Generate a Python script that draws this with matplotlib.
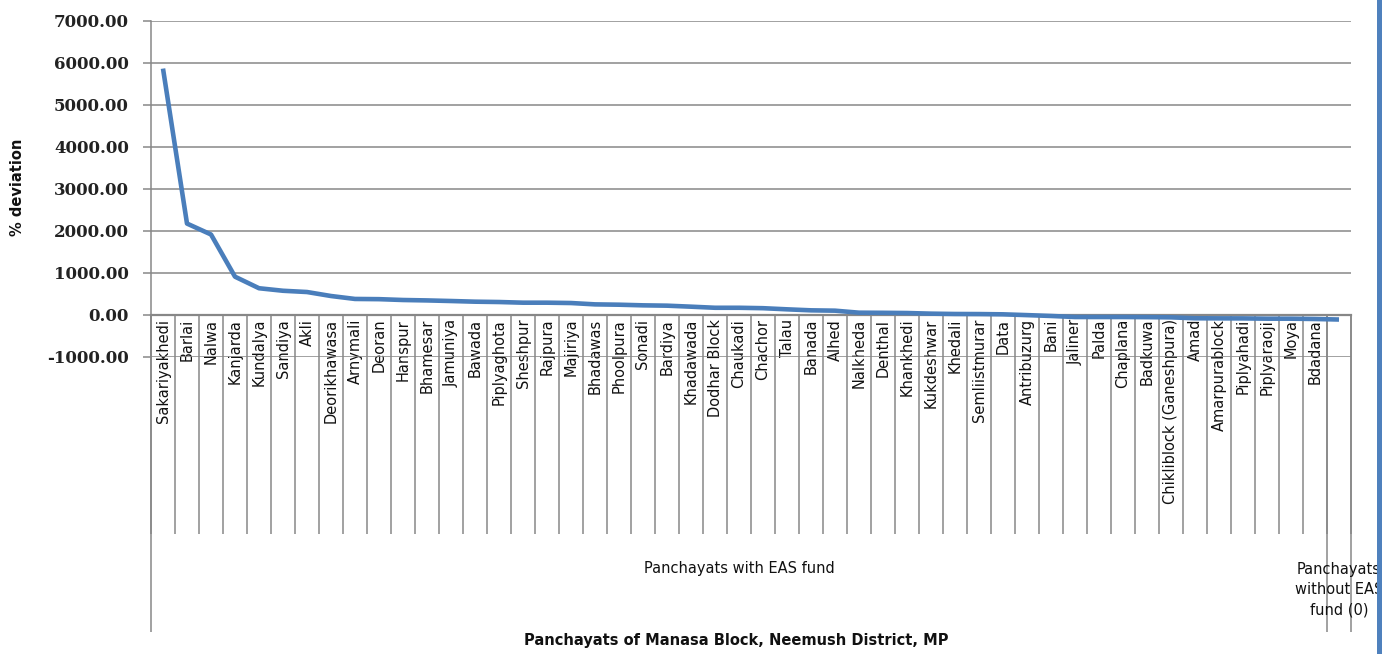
import matplotlib
matplotlib.use("Agg")
import matplotlib.pyplot as plt
import matplotlib.transforms as mtransforms
from matplotlib.patches import Rectangle
import numpy as np

categories = ["Sakariyakhedi", "Barlai", "Nalwa", "Kanjarda", "Kundalya", "Sandiya", "Akli",
              "Deorikhawasa", "Arnymali", "Deoran", "Hanspur", "Bhamesar", "Jamuniya", "Bawada",
              "Piplyaghota", "Sheshpur", "Rajpura", "Majiriya", "Bhadawas", "Phoolpura", "Sonadi",
              "Bardiya", "Khadawada", "Dodhar Block", "Chaukadi", "Chachor", "Talau", "Banada",
              "Alhed", "Nalkheda", "Denthal", "Khankhedi", "Kukdeshwar", "Khedali", "Semliistmurar",
              "Data", "Antribuzurg", "Bani", "Jaliner", "Palda", "Chaplana", "Badkuwa",
              "Chikliblock (Ganeshpura)", "Amad", "Amarpurablock", "Piplyahadi", "Piplyaraoji",
              "Moya", "Bdadana", ""]
deviation = [5860, 2170, 1910, 905, 630, 570, 540, 445, 375, 370, 350, 340, 326, 310,
             302, 286, 286, 278, 246, 238, 223, 215, 191, 165, 165, 155, 128, 104,
             96, 48, 45, 40, 25, 17, 15, 9, -10, -30, -55, -55, -55, -58,
             -63, -85, -87, -88, -95, -95, -102, -115]
groups = ["Panchayats with EAS fund", "Panchayats\nwithout EAS\nfund (0)"]
group_sizes = [49, 1]
yticks = [-1000, 0, 1000, 2000, 3000, 4000, 5000, 6000, 7000]

W, H = 1393, 654
fig = plt.figure(figsize=(W / 100, H / 100), dpi=100)
ax = fig.add_axes([151 / W, 1 - 356.7 / H, 1200 / W, 336 / H])

grid_c = "#878787"
x = np.arange(len(categories))
ax.plot(x, deviation, color="#4A7EBB", lw=3.3, zorder=3, solid_capstyle="butt")

ax.set_xlim(-0.5, len(categories) - 0.5)
ax.set_ylim(yticks[0], yticks[-1])
ax.set_yticks(yticks)
ax.set_yticklabels([f"{v:.2f}" for v in yticks], fontfamily="DejaVu Serif",
                   fontweight="bold", fontsize=12, color="#222222")
ax.yaxis.grid(True, color=grid_c, lw=1.1)
ax.set_axisbelow(True)
ax.tick_params(axis="y", length=6, width=1.1, color=grid_c, pad=10)

for s in ["top", "right"]:
    ax.spines[s].set_visible(False)
ax.spines["left"].set_color(grid_c)
ax.spines["left"].set_linewidth(1.1)
ax.spines["bottom"].set_position(("data", 0))
ax.spines["bottom"].set_color(grid_c)
ax.spines["bottom"].set_linewidth(1.6)

# category boundaries as long major ticks; labels as minor ticks
ax.set_xticks(np.arange(-0.5, len(categories), 1.0))
ax.set_xticklabels([])
ax.tick_params(axis="x", which="major", length=158, width=1.1, color=grid_c, direction="out")
ax.set_xticks(x, minor=True)
ax.set_xticklabels(categories, minor=True, rotation=90, fontsize=10.5,
                   fontfamily="DejaVu Sans", color="#111111")
ax.tick_params(axis="x", which="minor", length=0, pad=3)

# group boundaries (longer lines) and group labels
trans = mtransforms.blended_transform_factory(ax.transData, ax.transAxes)
bounds = np.concatenate([[0], np.cumsum(group_sizes)]) - 0.5
y0 = (356.7 - 314.7) / 336
y1 = (356.7 - 632) / 336
ax.vlines(bounds, y1, y0, transform=trans, color=grid_c, lw=1.1, clip_on=False)
centers = (bounds[:-1] + bounds[1:]) / 2
ax.text(centers[0], (356.7 - 568) / 336, groups[0], transform=trans, ha="center",
        va="center", fontsize=10.5, fontfamily="DejaVu Sans", color="#111111")
ax.text(centers[1], (356.7 - 590) / 336, groups[1], transform=trans, ha="center",
        va="center", fontsize=10.5, fontfamily="DejaVu Sans", color="#111111",
        linespacing=1.45, multialignment="center")

fig.text(18 / W, 1 - 187 / H, "% deviation", rotation=90, ha="center", va="center",
         fontsize=10.5, fontweight="bold", fontfamily="DejaVu Sans", color="#111111")
fig.text(736 / W, 1 - 641 / H, "Panchayats of Manasa Block, Neemush District, MP",
         ha="center", va="center", fontsize=10.5, fontweight="bold",
         fontfamily="DejaVu Sans", color="#111111")

# right edge: white margin and blue bar
fig.patches.append(Rectangle((1381 / W, 0), 12 / W, 1, transform=fig.transFigure,
                             facecolor="white", edgecolor="none", zorder=10))
fig.patches.append(Rectangle((1377 / W, 0), 4.5 / W, 1, transform=fig.transFigure,
                             facecolor="#4F81BD", edgecolor="none", zorder=11))

fig.savefig("out.png", dpi=100)
